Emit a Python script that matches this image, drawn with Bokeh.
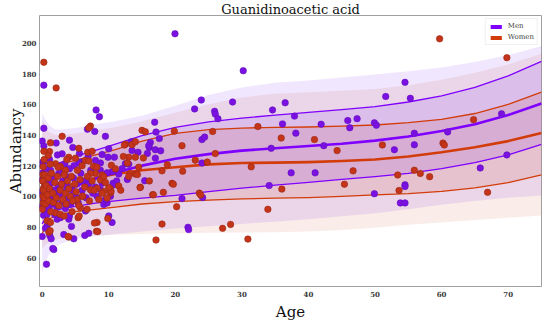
from bokeh.plotting import figure
from bokeh.models import Legend, LegendItem, FixedTicker, Range1d, Title
from bokeh.embed import file_html
from bokeh.resources import INLINE

TITLE = "Guanidinoacetic acid"
X_LABEL = "Age"
Y_LABEL = "Abundancy"
x_ticks = [0, 10, 20, 30, 40, 50, 60, 70]
y_ticks = [60, 80, 100, 120, 140, 160, 180, 200]
series_names = ["Men", "Women"]

# centile curves (age grid)
curve_age = [0, 0.5, 1, 2, 3, 5, 8, 11, 15, 20, 25, 30, 35, 40, 45, 50, 55, 60, 65, 70, 75]
men_outer_hi = [154, 150, 146.5, 143.5, 143.5, 144.5, 147, 149, 152.5, 159, 166, 171, 174, 175.5, 177.5, 179.5, 181.5, 184, 187.5, 192, 198]
men_outer_lo = [50, 57, 62, 67, 69.5, 72, 74, 75.5, 77, 79, 80.5, 82, 83.5, 85, 87, 89, 91.5, 94.5, 97, 99, 100.5]
women_outer_hi = [150, 146, 142, 140, 140, 141, 143, 145, 149, 154.5, 160, 164.5, 166.8, 167.8, 168.8, 170, 172.5, 176, 180.5, 186, 193]
women_outer_lo = [66, 68.5, 70, 71.5, 72.5, 73.5, 74.5, 75, 75.5, 76, 76.2, 76.4, 76.6, 77, 78, 79.5, 81.5, 83, 84.5, 86, 87.5]
men_upper = [122.5, 121.5, 121, 121, 122.5, 126, 130, 134, 139.5, 145, 148.5, 151, 153, 154.8, 156.5, 158.5, 161.5, 165.5, 171, 178.5, 188]
men_median = [98, 99, 100, 102, 103.5, 106.5, 111.5, 115.5, 120, 124.5, 127.5, 129.8, 131.3, 132.8, 134.3, 136.3, 139, 142.6, 147, 153, 160.5]
men_lower = [82, 85.5, 88, 90.5, 92, 93.5, 95.5, 97, 98.8, 100.6, 103, 105.3, 107.3, 109.1, 111, 112.8, 115, 118, 122, 127, 133.8]
women_upper = [124.5, 122, 121, 120.5, 121.5, 123.5, 127, 130.5, 136, 141, 143.5, 144.5, 145, 145.2, 145.8, 146.5, 148, 150.2, 154, 160, 168]
women_median = [100.5, 101.5, 102.5, 104.5, 106, 108.5, 112, 114.5, 117, 119, 120.8, 121.7, 122, 122.3, 123, 124, 126, 128.7, 132, 136, 141.3]
women_lower = [75.5, 81, 85, 87.5, 88.5, 90, 91.5, 93, 95, 96.5, 97.5, 98.3, 98.8, 99.2, 100, 100.9, 101.8, 103.2, 105.5, 109, 114]

# observations
men_pts = [
    (0.65, 55.7), (0.25, 172.5), (0.25, 144.4), (0, 136), (0.25, 132.8), (2.1, 134.7), (4.1, 136.6),
    (8.1, 156.3), (8.6, 151.9), (6.8, 143.8), (7.9, 142.3), (9.5, 139.1), (16.9, 148.3), (17.1, 141.9),
    (17.6, 137.7), (16.1, 131.9), (17, 130.4), (17.8, 129.7), (19.95, 206), (22.9, 157), (23.9, 162.8),
    (25.9, 155.4), (26, 153.6), (26.4, 150.6), (24, 137), (24.4, 138.6), (28.6, 161.5), (30.2, 181.9),
    (34.6, 156.3), (34.4, 131.3), (13.4, 135.6), (13.5, 129.8), (14.4, 128.7),
    (36.5, 161), (37.9, 152.3), (36.1, 147.2), (38.1, 141.2), (41.9, 147), (45.9, 149.4), (46.2, 144.7),
    (47.3, 150.6), (49.9, 147.9), (50.2, 146.4), (42.3, 133), (51.6, 165.1), (54.5, 174.3), (55.3, 163.9),
    (55.9, 141.1), (55.9, 133.6), (52.9, 130.4), (60.9, 142), (69, 153.8), (69.8, 127),
    (37.4, 115.3), (41, 115.3), (49.9, 101.7), (54.5, 107.5), (54.5, 106.4), (53.8, 95.7), (54.5, 95.7),
    (65.8, 118.5), (17, 124.9), (24, 121.7), (34.1, 107), (21, 98.5), (21.9, 79.8), (22, 78.3), (24.1, 99.2),
    (0.1, 122.3), (0.1, 115.3), (0, 110.7), (0, 103.2), (0.2, 97.9), (0, 93.6), (0.2, 87.7), (0, 73.8),
    (1.75, 65.3), (1.15, 74.4), (1.35, 72.3), (0.75, 80.8), (0.5, 79.1), (2.25, 85.1), (2.75, 86.1),
    (3.25, 75.1), (4.75, 72.3), (6.4, 74.5), (7, 75.9), (4.4, 80.4), (4, 85.1), (4.1, 87.2), (10, 87.2),
    (10.5, 83), (6.5, 90.4), (8.25, 100), (8.75, 104.3), (9, 108.5), (9.25, 94.7), (9.75, 95.7),
    (10.65, 108.5), (10.75, 107.5), (11.5, 114.5), (10.5, 116), (9.75, 115.3), (8.75, 117), (5.75, 122.3),
    (8, 123.4), (1.25, 117), (2.5, 114.9), (3.7, 112.8), (4.6, 131.9), (3, 127.7), (5.5, 121.7), (9, 127.3),
    (9.9, 125.5), (10.85, 125.5), (8.75, 121.7), (16.25, 135.1), (16, 133), (12.5, 121.3), (13, 120.9),
    (15.4, 110.2), (9.5, 97.9), (10.25, 100), (1.6, 66),
    (0.1, 120), (0.2, 112), (0.3, 106), (0.1, 101), (0.2, 96), (0.4, 91), (0.5, 118), (0.6, 110), (0.8, 103),
    (0.9, 97), (1.0, 92), (1.2, 108), (1.4, 100), (1.5, 95), (1.7, 112), (1.8, 104), (2.0, 98), (2.2, 93),
    (2.4, 107), (2.6, 101), (2.8, 116), (3.0, 96), (3.1, 110), (3.3, 103), (3.5, 92), (3.7, 107), (3.9, 99),
    (4.1, 118), (4.3, 95), (4.5, 104), (4.7, 112), (5.0, 100), (5.2, 108), (5.4, 96), (5.8, 115), (6.0, 104),
    (6.3, 110), (6.6, 99), (7.0, 108), (7.3, 117), (7.6, 102), (8.0, 106), (1.1, 124), (2.3, 127), (3.4, 121),
    (0.7, 88), (1.9, 88), (5.6, 128), (6.9, 126), (4.8, 120), (11.2, 110), (12.0, 118), (12.8, 111),
    (15.8, 128), (10.0, 131),
]
women_pts = [
    (0.25, 187.4), (2.1, 170.7), (3, 139.1), (7.25, 145.8), (7, 144.7), (1.25, 134.9), (5.5, 131.3),
    (1.1, 129.2), (0.9, 126.6), (4, 125.5), (5, 124.9), (7.7, 119.6), (8, 114.9), (9, 113.9), (10.4, 120.2),
    (12.5, 134), (13.5, 133.7), (15, 143), (15.5, 142.1), (13, 125.5), (14, 125.5), (14.75, 105.9),
    (9.25, 103.2), (10.25, 102.1), (8.25, 83), (8.15, 77.2), (4, 73.4), (14, 135.6),
    (59.7, 202.7), (69.8, 190.4), (64.8, 150), (35.9, 138), (40.9, 137), (44.3, 129.8), (51.1, 133.5),
    (60.2, 134.7), (60.4, 133.5), (36, 104.7), (45.4, 107.9), (46.7, 116.6), (53.4, 113.9), (53.6, 103.8),
    (55.9, 117), (56.8, 114.9), (58.2, 112.8), (66.9, 102.6),
    (19.85, 142.5), (25.6, 142.3), (32.4, 145.5), (21, 133), (26, 127.9), (23, 123.6), (24.8, 122.3),
    (31.4, 119.2), (18.8, 120.6), (18, 116.6), (21.1, 116.4), (19.5, 108.5), (19.7, 107.9), (18.2, 102.6),
    (16.6, 101.1), (23.6, 102.1), (23.8, 100.8), (33.9, 91.5), (20.2, 93.2), (18, 81.9), (17.1, 71.5),
    (27.1, 79.1), (28.3, 81.7), (30.9, 72.1),
    (12.8, 121.7), (13.2, 114.9), (14, 114.5), (14.3, 114.2), (14.7, 105.7), (16.1, 110), (16.7, 101),
    (0.15, 119.2), (0.1, 114), (0.15, 109.6), (0.2, 105.3), (0.1, 100), (0.15, 95.7), (0, 91.5), (1, 76.6),
    (1.2, 77.6), (0.75, 84), (1.25, 83), (2, 89.3), (2.7, 88.3), (3.3, 87.2), (3.9, 73.8), (5.4, 86.1),
    (5.55, 87.2), (7.85, 82.6), (8.35, 77), (9.85, 85.5), (5.75, 92.5), (6.75, 91.5), (5.25, 97.9), (6, 100),
    (7.25, 104.3), (8.25, 105.3), (8.75, 110.7), (9.25, 112.8), (9.75, 98.9), (10.25, 104.7), (10.35, 103.2),
    (10, 105.7), (11.5, 106.8), (7.25, 114.9), (6.5, 123.4), (7, 123), (2, 121.3), (2.75, 119.2), (3.5, 117),
    (6.85, 128.7), (7.5, 129.4), (12.35, 133.4), (0.25, 129.4),
    (0.1, 110), (0.2, 104), (0.3, 99), (0.4, 114), (0.5, 95), (0.6, 107), (0.8, 101), (0.9, 112), (1.0, 97),
    (1.1, 105), (1.3, 90), (1.4, 115), (1.6, 102), (1.7, 96), (1.9, 109), (2.1, 99), (2.3, 113), (2.5, 94),
    (2.7, 104), (2.9, 108), (3.1, 98), (3.3, 114), (3.5, 102), (3.6, 95), (3.8, 110), (4.0, 105), (4.2, 100),
    (4.4, 113), (4.6, 97), (4.9, 108), (5.1, 103), (5.3, 117), (5.5, 94), (5.7, 111), (6.1, 100), (6.4, 106),
    (6.8, 113), (7.1, 97), (7.5, 110), (7.8, 104), (8.2, 119), (8.5, 98), (9.0, 102), (9.5, 109), (0.3, 124),
    (1.2, 121), (2.4, 119), (3.7, 124), (4.5, 90), (6.0, 120), (11.0, 118), (11.8, 104), (12.2, 126),
    (13.0, 113), (14.5, 119), (15.2, 125),
]
men_age = [a for a, v in men_pts]
men_val = [v for a, v in men_pts]
women_age = [a for a, v in women_pts]
women_val = [v for a, v in women_pts]

MEN = "#7F00FF"
WOMEN = "#D23C0A"
SERIF = "DejaVu Serif"

p = figure(width=550, height=322, x_range=Range1d(-0.4, 75), y_range=Range1d(41.2, 217.9),
           output_backend="svg", toolbar_location=None,
           min_border_left=39, min_border_right=9, min_border_top=15, min_border_bottom=30)
p.outline_line_color = "#a0a0a0"
p.outline_line_width = 1
p.xgrid.visible = False
p.ygrid.visible = False
p.background_fill_color = "white"

p.title.text = TITLE
p.title.align = "center"
p.title.text_font = SERIF
p.title.text_font_size = "13px"
p.title.text_font_style = "normal"
p.title.text_color = "#111111"
p.title.text_line_height = 0.9
p.title.standoff = -2
p.title.offset = 0

for ax, ticks in ((p.xaxis, x_ticks), (p.yaxis, y_ticks)):
    ax.ticker = FixedTicker(ticks=ticks)
    ax.axis_line_color = None
    ax.major_tick_line_color = None
    ax.minor_tick_line_color = None
    ax.major_tick_out = 0
    ax.major_tick_in = 0
    ax.major_label_text_font = SERIF
    ax.major_label_text_font_size = "7px"
    ax.major_label_text_font_style = "bold"
    ax.major_label_text_color = "#3a3a3a"
    ax.major_label_text_line_height = 1.0
    ax.major_label_standoff = 3
p.xaxis.major_label_standoff = 4

p.yaxis.axis_label = Y_LABEL
p.yaxis.axis_label_text_font = SERIF
p.yaxis.axis_label_text_font_size = "15px"
p.yaxis.axis_label_text_font_style = "normal"
p.yaxis.axis_label_text_color = "#111111"
p.yaxis.axis_label_standoff = -6

x_title = Title(text=X_LABEL, align="center", text_font=SERIF, text_font_size="15px",
                text_font_style="normal", text_color="#111111", text_line_height=0.9,
                standoff=3, offset=0)
p.add_layout(x_title, "below")

# bands
p.varea(x=curve_age, y1=women_outer_lo, y2=women_outer_hi, fill_color="#D2502A", fill_alpha=0.10)
p.varea(x=curve_age, y1=men_outer_lo, y2=men_outer_hi, fill_color="#8030F0", fill_alpha=0.12)
p.varea(x=curve_age, y1=women_lower, y2=women_upper, fill_color="#C83C28", fill_alpha=0.13)
p.varea(x=curve_age, y1=men_lower, y2=men_upper, fill_color="#8030F0", fill_alpha=0.14)

# legend swatch renderers: zero-height areas along the medians (hidden under the lines)
rm = p.varea(x=curve_age, y1=men_median, y2=men_median, fill_color=MEN)
rw = p.varea(x=curve_age, y1=women_median, y2=women_median, fill_color=WOMEN)

# centile lines
for ys, w in ((women_upper, 1.3), (women_lower, 1.3), (women_median, 2.6)):
    p.line(curve_age, ys, line_color=WOMEN, line_width=w, line_join="round")
for ys, w in ((men_upper, 1.3), (men_lower, 1.3), (men_median, 2.6)):
    p.line(curve_age, ys, line_color=MEN, line_width=w, line_join="round")

# points
p.scatter(men_age, men_val, size=6.5, fill_color="#7A10E2", line_color="#6410B8", line_width=0.6)
p.scatter(women_age, women_val, size=6.5, fill_color="#C4341A", line_color="#9A2812", line_width=0.6)

legend = Legend(items=[LegendItem(label=series_names[0], renderers=[rm]),
                       LegendItem(label=series_names[1], renderers=[rw])],
                location="top_right", margin=3, padding=3, spacing=3,
                glyph_width=14, glyph_height=5, label_standoff=5,
                label_text_font=SERIF, label_text_font_size="7px", label_height=7,
                border_line_color="#e0e0e0", background_fill_alpha=0.9)
p.add_layout(legend)

open("out.html", "w").write(file_html(p, INLINE))
